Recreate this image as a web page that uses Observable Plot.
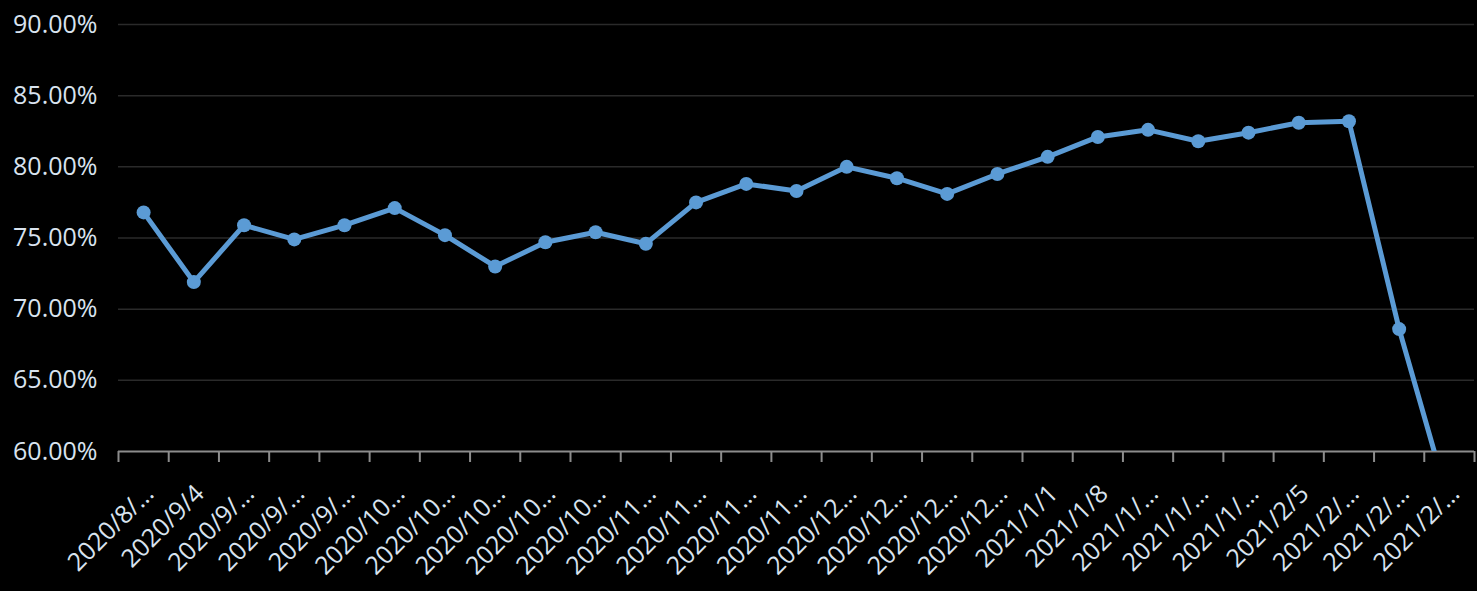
<!DOCTYPE html>
<html><head><meta charset="utf-8">
<script src="https://cdn.jsdelivr.net/npm/d3@7"></script>
<script src="https://cdn.jsdelivr.net/npm/@observablehq/plot@0.6"></script>
<style>html,body{margin:0;padding:0;background:#000;overflow:hidden}</style>
</head><body><div id="chart"></div>
<script>
const labels = ["2020/8/…","2020/9/4","2020/9/…","2020/9/…","2020/9/…","2020/10…","2020/10…","2020/10…","2020/10…","2020/10…","2020/11…","2020/11…","2020/11…","2020/11…","2020/12…","2020/12…","2020/12…","2020/12…","2021/1/1","2021/1/8","2021/1/…","2021/1/…","2021/1/…","2021/2/5","2021/2/…","2021/2/…","2021/2/…"];
const values = [76.8,71.9,75.9,74.9,75.9,77.1,75.2,73.0,74.7,75.4,74.6,77.5,78.8,78.3,80.0,79.2,78.1,79.5,80.7,82.1,82.6,81.8,82.4,83.1,83.2,68.6,56.3];
const yTicks = [60,65,70,75,80,85,90];

const n = labels.length;
const data = labels.map((label, i) => ({i, label, value: values[i]}));
const boundaries = d3.range(n + 1).map(i => i - 0.5);

const chart = Plot.plot({
  width: 1477, height: 591,
  marginLeft: 118, marginRight: 3, marginTop: 24, marginBottom: 140,
  style: {background: "#000", color: "#d9e3ef", fontFamily: "'Open Sans', sans-serif", fontSize: "25px"},
  x: {type: "linear", domain: [-0.5, n - 0.5]},
  y: {domain: [60, 90]},
  marks: [
    Plot.ruleY(yTicks.filter(t => t > 60), {stroke: "#2a2a2a", strokeWidth: 1.5}),
    Plot.axisY(yTicks, {tickSize: 0, tickPadding: 21, tickFormat: d => d.toFixed(2) + "%", fontSize: 25, label: null, fill: "#d9e3ef"}),
    Plot.axisX(boundaries, {tickSize: 11, stroke: "#8c8c8c", strokeWidth: 2, tickFormat: () => "", label: null}),
    Plot.ruleY([60], {stroke: "#8c8c8c", strokeWidth: 2}),
    Plot.axisX(d3.range(n), {tickSize: 0, tickRotate: -45, tickPadding: 38, dx: 6, tickFormat: i => labels[i], fontSize: 25, label: null, fill: "#d9e3ef"}),
    Plot.line(data, {x: "i", y: "value", stroke: "#5b9bd5", strokeWidth: 5, clip: true}),
    Plot.dot(data, {x: "i", y: "value", fill: "#5b9bd5", r: 7, clip: true})
  ]
});
document.getElementById("chart").appendChild(chart);
</script></body></html>
